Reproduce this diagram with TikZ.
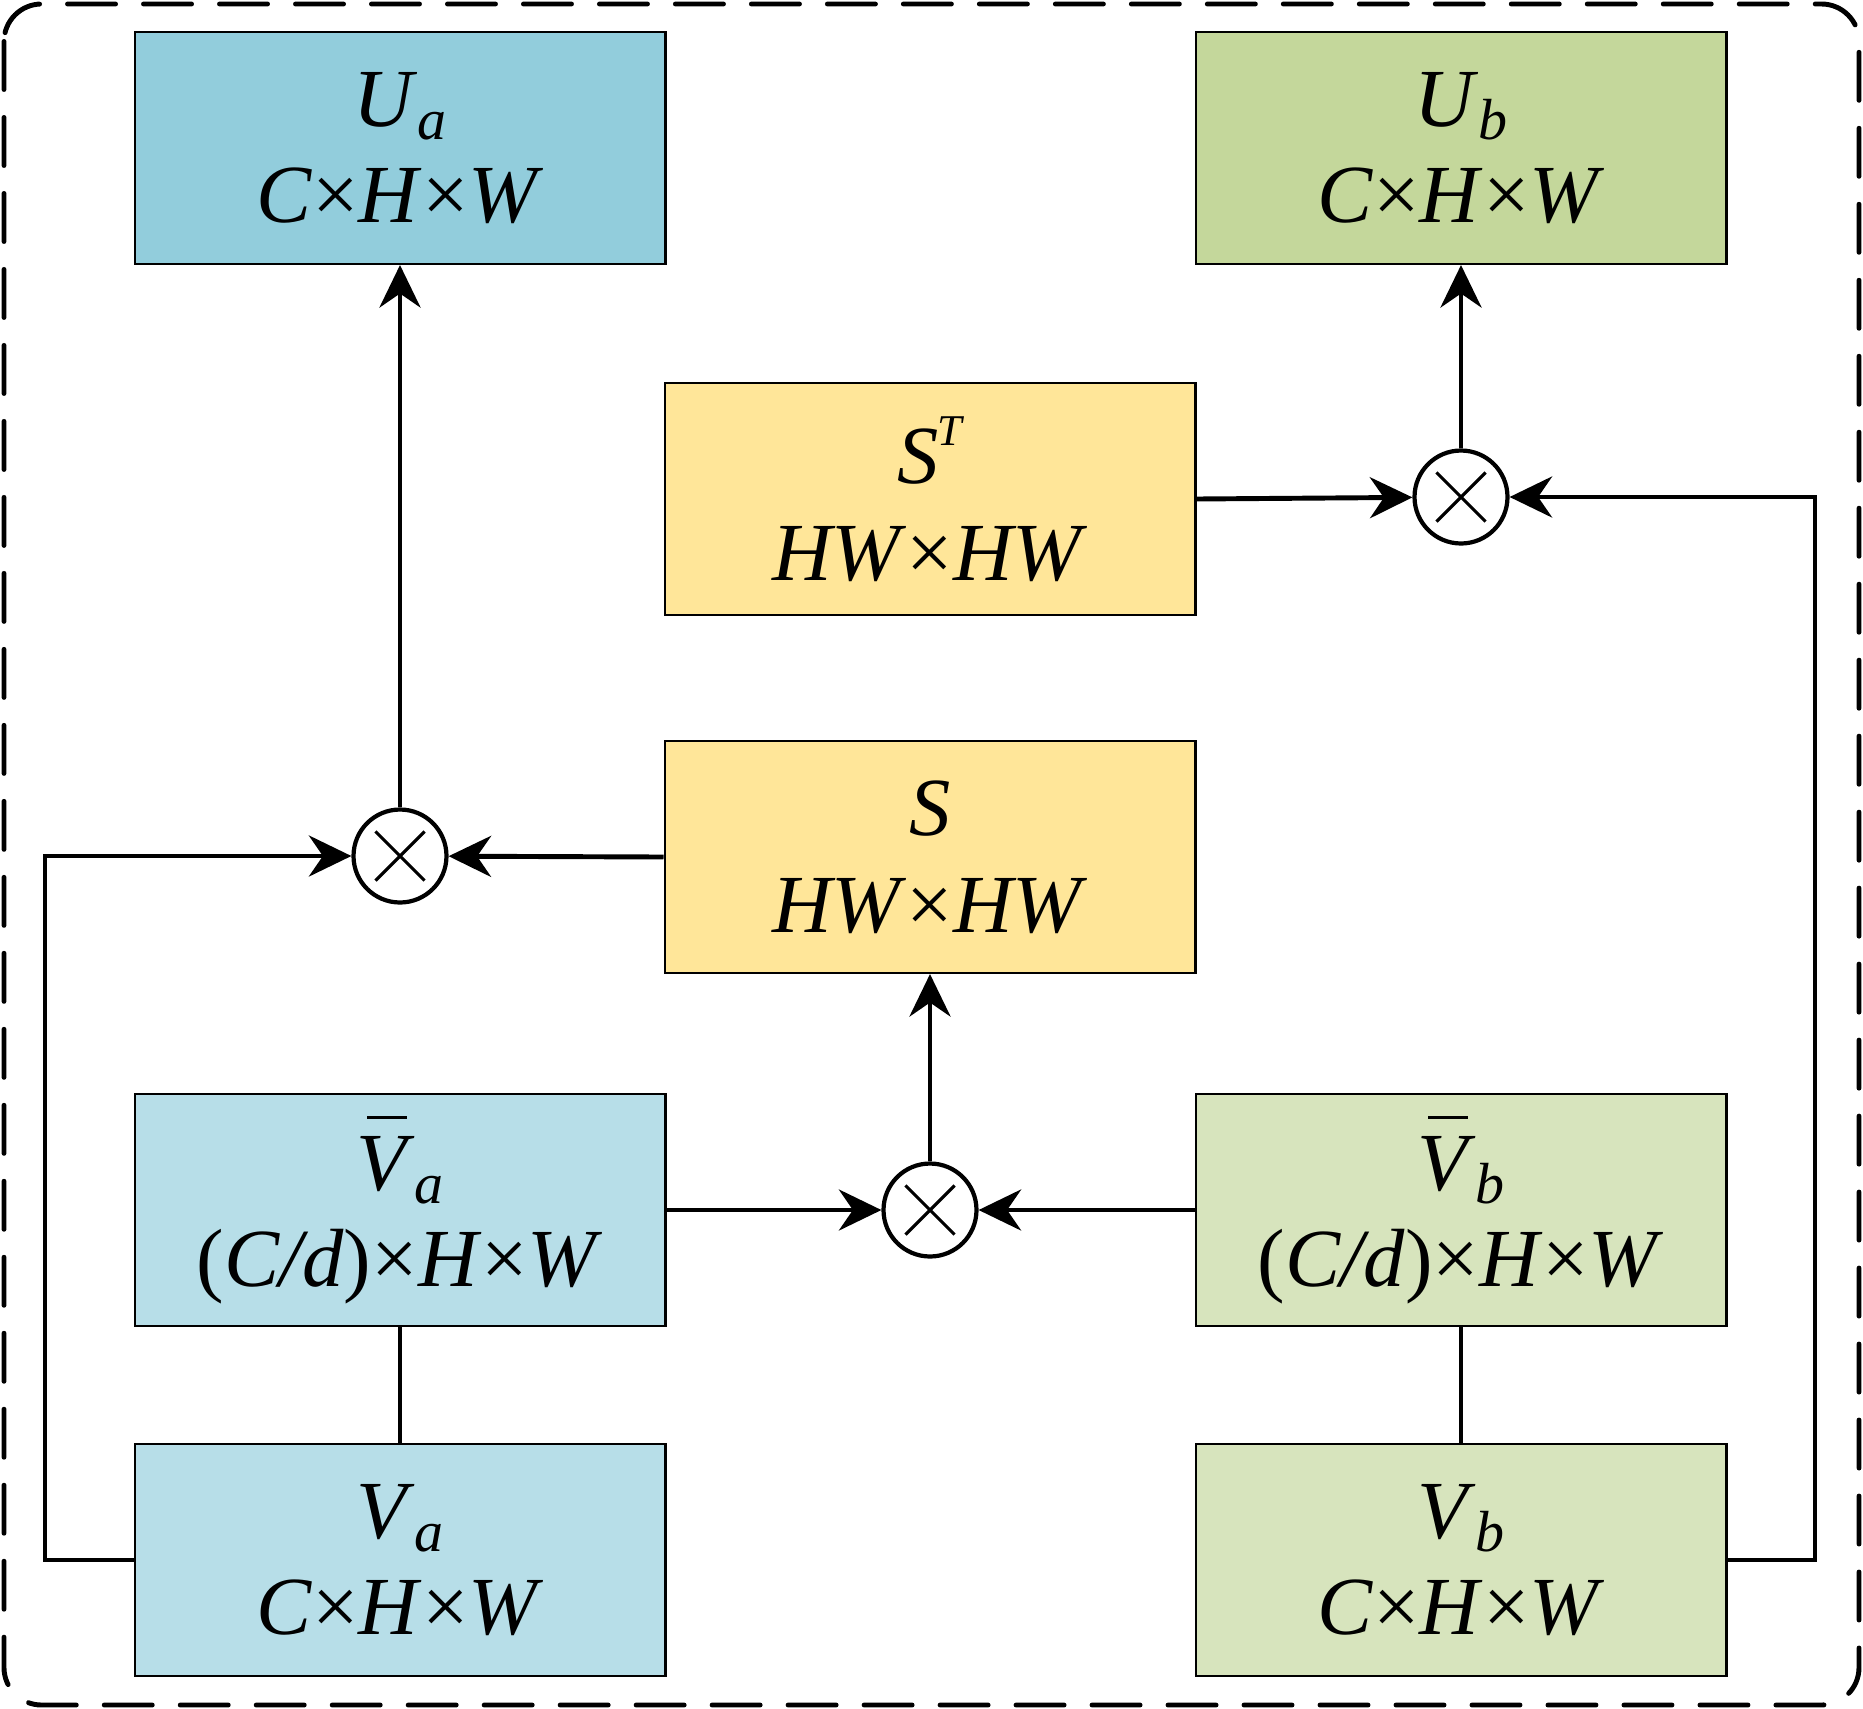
\documentclass[tikz,border=0pt]{standalone}
\usepackage{fontspec}
\setmainfont{Liberation Serif}
\usepackage{xcolor}
\usetikzlibrary{arrows.meta, positioning}

\definecolor{blueA}{HTML}{92CDDC}
\definecolor{blueB}{HTML}{B7DEE8}
\definecolor{greenA}{HTML}{C4D79B}
\definecolor{greenB}{HTML}{D7E4BD}
\definecolor{gold}{HTML}{FFE699}

\newcommand{\subidx}[1]{\raisebox{-7.5pt}{\fontsize{33}{33}\selectfont\itshape #1}}
\newcommand{\dimsCHW}{\textit{C}×\textit{H}×\textit{W}}
\newcommand{\dimsRed}{(\textit{C/d})×\textit{H}×\textit{W}}
\newcommand{\dimsHW}{\textit{HW}×\textit{HW}}
\newcommand{\barV}{\rlap{\kern0.13em\raisebox{0.86em}{\rule{0.48em}{0.04em}}}\textit{V}}

\begin{document}
\begin{tikzpicture}[x=0.02cm, y=-0.02cm,
    % Styles
    block/.style={draw, line width=1.2pt, minimum width=10.62cm, minimum height=4.64cm,
                  inner sep=0pt, align=center, font=\fontsize{47}{55}\selectfont},
    mult/.style={circle, draw, line width=2.4pt, minimum size=1.86cm, inner sep=0pt,
                 path picture={
                   \draw[line width=1.8pt, shorten >=0.62cm, shorten <=0.62cm]
                     (path picture bounding box.south west) -- (path picture bounding box.north east);
                   \draw[line width=1.8pt, shorten >=0.62cm, shorten <=0.62cm]
                     (path picture bounding box.north west) -- (path picture bounding box.south east);}},
    flow/.style={-{Stealth[length=0.85cm, width=0.82cm, inset=0.28cm]}, line width=2.8pt},
    link/.style={line width=2.8pt},
    frame/.style={line width=2.8pt, dash pattern=on 0.96cm off 0.56cm, line cap=round,
                  rounded corners=0.75cm}
  ]
    \useasboundingbox (0,0) rectangle (1863,1708);

    % === Outer dashed frame ===
    \draw[frame] (4,4) rectangle (1859,1705);

    % === Feature blocks ===
    \node[block, fill=blueA] (ua) at (400,148) {\textit{U}\subidx{a}\\\dimsCHW};
    \node[block, fill=greenA] (ub) at (1461,148) {\textit{U}\subidx{b}\\\dimsCHW};

    \node[block, fill=gold] (st) at (930,499)
      {\textit{S}\kern-0.02em\raisebox{0.46em}{\fontsize{25}{25}\selectfont\itshape T}\\\dimsHW};
    \node[block, fill=gold] (s) at (930,857) {\textit{S}\\\dimsHW};

    \node[block, fill=blueB] (vabar) at (400,1210) {\barV\subidx{a}\\\dimsRed};
    \node[block, fill=blueB] (va) at (400,1560) {\textit{V}\subidx{a}\\\dimsCHW};

    \node[block, fill=greenB] (vbbar) at (1461,1210) {\barV\subidx{b}\\\dimsRed};
    \node[block, fill=greenB] (vb) at (1461,1560) {\textit{V}\subidx{b}\\\dimsCHW};

    % === Multiplications ===
    \node[mult] (ma) at (400,856) {};
    \node[mult] (mb) at (1461,497) {};
    \node[mult] (ms) at (930,1210) {};

    % === Connectors ===
    \draw[link] (vabar) -- (va);
    \draw[link] (vbbar) -- (vb);

    \draw[flow] (vabar.east) -- (ms);
    \draw[flow] (vbbar.west) -- (ms);
    \draw[flow] (ms) -- (s.south);

    \draw[flow] (s.west) -- (ma);
    \draw[flow] (va.west) -- (45,1560) |- (ma.west);
    \draw[flow] (ma) -- (ua.south);

    \draw[flow] (st.east) -- (mb);
    \draw[flow] (vb.east) -- (1815,1560) |- (mb.east);
    \draw[flow] (mb) -- (ub.south);

  \end{tikzpicture}
\end{document}
